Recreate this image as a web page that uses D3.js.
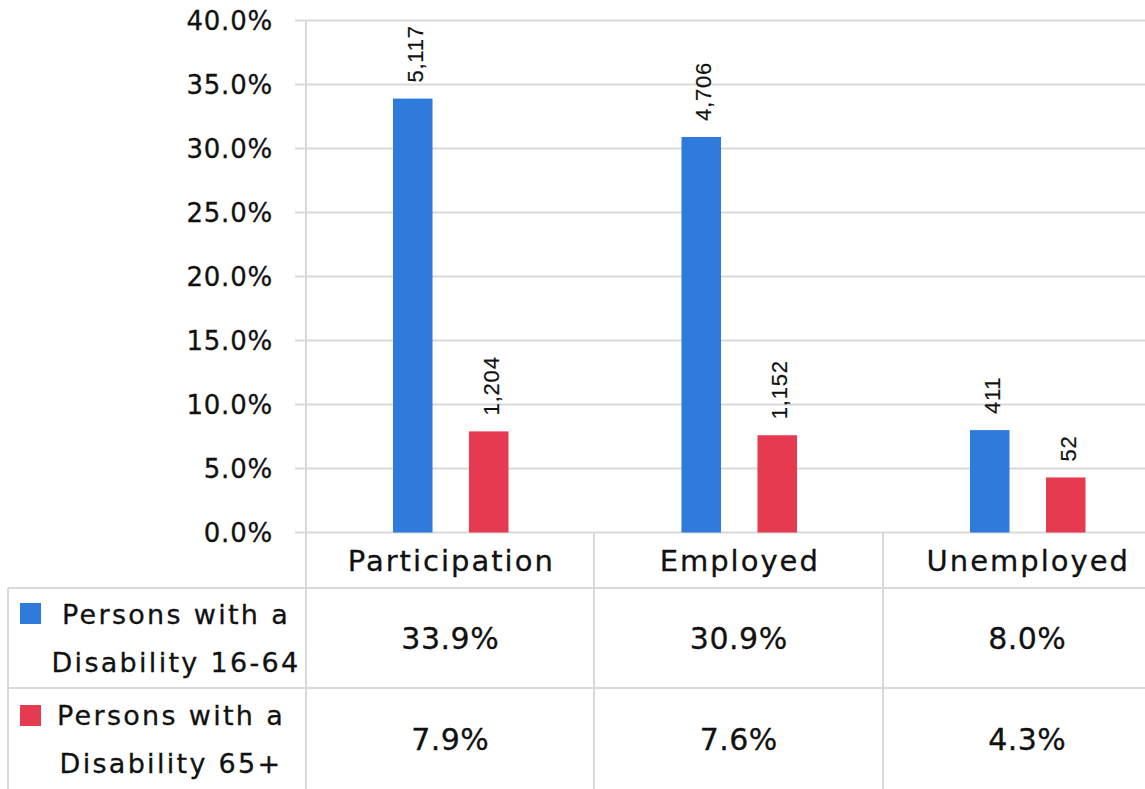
<!DOCTYPE html>
<html><head><meta charset="utf-8">
<script src="https://cdn.jsdelivr.net/npm/d3@7"></script>
<style>
html,body{margin:0;padding:0;background:#fff;}
svg{display:block;}
</style></head>
<body>
<script>
const categories = ["Participation", "Employed", "Unemployed"];
const seriesNames = ["Persons with a Disability 16-64", "Persons with a Disability 65+"];
const seriesLegendLines = [["Persons with a", "Disability 16-64"], ["Persons with a", "Disability 65+"]];
const values1664 = [0.339, 0.309, 0.080];
const values65 = [0.079, 0.076, 0.043];
const counts1664 = ["5,117", "4,706", "411"];
const counts65 = ["1,204", "1,152", "52"];
const yTicks = [0, 0.05, 0.10, 0.15, 0.20, 0.25, 0.30, 0.35, 0.40];
const colors = ["#2e7bdc", "#e63a50"];

const W = 1145, H = 789;
const svg = d3.select("body").append("svg").attr("width", W).attr("height", H);
const font = "DejaVu Sans";
const grid = "#d9d9d9";
const ink = "#111";

const plotLeft = 306, bandW = 288.5;
const x = d3.scaleBand().domain(categories).range([plotLeft, plotLeft + bandW * 3]).padding(0);
const x1 = d3.scaleBand().domain([0, 1]).range([87, 202.5]).paddingInner(0.48).paddingOuter(0);
const y = d3.scaleLinear().domain([0, 0.4]).range([532.5, 20.5]);

function heavy(sel, w) {
  return sel.attr("fill", ink).attr("stroke", ink).attr("stroke-width", w);
}

// gridlines
svg.append("g").selectAll("line").data(yTicks).join("line")
  .attr("x1", 295).attr("x2", W)
  .attr("y1", d => y(d)).attr("y2", d => y(d))
  .attr("stroke", grid).attr("stroke-width", 2);

// y axis
const yAxis = d3.axisLeft(y).tickValues(yTicks).tickFormat(d3.format(".1%")).tickSize(0).tickPadding(33);
const yg = svg.append("g").attr("transform", `translate(${plotLeft},0)`).call(yAxis);
yg.select(".domain").remove();
heavy(yg.selectAll("text").attr("font-family", font).attr("font-size", 26)
  .attr("letter-spacing", 0.8).attr("dy", "0.36em"), 0.3);

// table lines
const tbl = svg.append("g").attr("stroke", grid).attr("stroke-width", 2);
tbl.append("line").attr("x1", plotLeft).attr("x2", plotLeft).attr("y1", 20).attr("y2", H);
[594, 883].forEach(v => tbl.append("line").attr("x1", v).attr("x2", v).attr("y1", 532).attr("y2", H));
tbl.append("line").attr("x1", 8).attr("x2", 8).attr("y1", 588).attr("y2", H);
[588, 688].forEach(v => tbl.append("line").attr("x1", 8).attr("x2", W).attr("y1", v).attr("y2", v));

// bars
const series = [values1664, values65];
const countSeries = [counts1664, counts65];
series.forEach((vals, si) => {
  const g = svg.append("g");
  g.selectAll("rect").data(vals).join("rect")
    .attr("x", (d, i) => x(categories[i]) + x1(si))
    .attr("width", x1.bandwidth())
    .attr("y", d => y(d))
    .attr("height", d => y(0) - y(d))
    .attr("fill", colors[si]);
  heavy(g.selectAll("text").data(vals).join("text")
    .attr("transform", (d, i) => `translate(${x(categories[i]) + x1(si) + x1.bandwidth() / 2 + 2},${y(d) - 16}) rotate(-90)`)
    .attr("dy", "0.36em")
    .attr("font-family", "Liberation Sans").attr("font-size", 22).attr("letter-spacing", 0.8)
    .text((d, i) => countSeries[si][i]), 0.2);
});

// category header
heavy(svg.append("g").selectAll("text").data(categories).join("text")
  .attr("x", d => x(d) + bandW / 2 + 1).attr("y", 561)
  .attr("text-anchor", "middle").attr("dominant-baseline", "central")
  .attr("font-family", font).attr("font-size", 29).attr("letter-spacing", 2)
  .text(d => d), 0.3);

// table values
const fmt = d3.format(".1%");
const rowCenters = [638, 739];
series.forEach((vals, si) => {
  heavy(svg.append("g").selectAll("text").data(vals).join("text")
    .attr("x", (d, i) => x(categories[i]) + bandW / 2).attr("y", rowCenters[si])
    .attr("text-anchor", "middle").attr("dominant-baseline", "central")
    .attr("font-family", font).attr("font-size", 30).attr("letter-spacing", 0.5)
    .text(d => fmt(d)), 0.3);
});

// legend cells
const legendTops = [603, 705];
seriesLegendLines.forEach((lines, si) => {
  svg.append("rect").attr("x", 20).attr("y", legendTops[si]).attr("width", 21).attr("height", 21).attr("fill", colors[si]);
  lines.forEach((ln, li) => {
    heavy(svg.append("text")
      .attr("x", si === 0 ? 176 : 171).attr("y", rowCenters[si] - 24 + li * 48)
      .attr("text-anchor", "middle").attr("dominant-baseline", "central")
      .attr("font-family", font).attr("font-size", 27).attr("letter-spacing", 2.3)
      .text(ln), 0.3);
  });
});
</script>
</body></html>
